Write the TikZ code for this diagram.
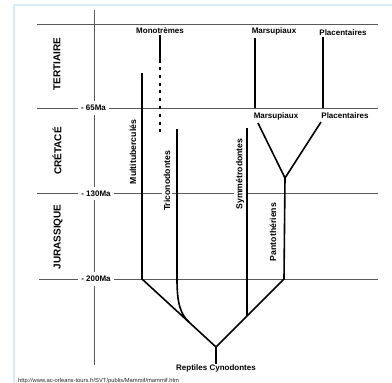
\documentclass[tikz,border=0pt]{standalone}
\usepackage{fontspec}
\setmainfont{Liberation Sans}
\begin{document}
\begin{tikzpicture}[x=1pt,y=-1pt,
  gridline/.style={draw=black!65, line width=0.7pt},
  branch/.style={draw=black, line width=1.6pt},
  lbl/.style={font=\bfseries\fontsize{8}{9}\selectfont, inner sep=1pt},
  vlbl/.style={font=\bfseries\fontsize{8.7}{10}\selectfont, inner sep=1.5pt, rotate=90, fill=white},
  period/.style={font=\bfseries\fontsize{10}{12}\selectfont, rotate=90, inner sep=1pt},
  malbl/.style={lbl, fill=white, inner xsep=3pt, inner ysep=4pt}]
\useasboundingbox (0,0) rectangle (392,383);
\fill[white] (0,0) rectangle (392,383);
\draw[draw={rgb,255:red,214;green,238;blue,244}, line width=1.5pt] (14,383) -- (14,5) -- (392,5);

% time grid
\coordinate (axT) at (94,10);
\coordinate (axB) at (94,365);
\coordinate (g0l) at (37,24);   \coordinate (g0r) at (378,24);
\coordinate (g1l) at (37,108);  \coordinate (g1r) at (378,108);
\coordinate (g2l) at (37,193.5);\coordinate (g2r) at (378,193.5);
\coordinate (g3l) at (39,279);  \coordinate (g3r) at (378,279);
\draw[gridline] (axT) -- (axB);
\draw[gridline] (g0l) -- (g0r);
\draw[gridline] (g1l) -- (g1r);
\draw[gridline] (g2l) -- (g2r);
\draw[gridline] (g3l) -- (g3r);
\node[malbl] (ma65) at (93.5,108) {- 65Ma};
\node[malbl] (ma130) at (96,193.5) {- 130Ma};
\node[malbl] (ma200) at (96,279) {- 200Ma};

% periods
\node[period] (tert) at (57,64) {TERTIAIRE};
\node[period] (cret) at (57,151) {CRÉTACÉ};
\node[period] (jura) at (58,237) {JURASSIQUE};

% rotated group labels
\node[vlbl] (multi) at (133,152) {Multituberculés};
\node[vlbl] (trico) at (167,181) {Triconodontes};
\node[vlbl] (symm) at (240,174) {Symmétrodontes};
\node[vlbl] (panto) at (273,232) {Pantothériens};

% horizontal labels
\node[lbl] (mono) at (160,31) {Monotrèmes};
\node[lbl] (marsT) at (274,31) {Marsupiaux};
\node[lbl] (placT) at (343,32.5) {Placentaires};
\node[lbl] (marsM) at (276,116) {Marsupiaux};
\node[lbl] (placM) at (345,116) {Placentaires};
\node[lbl, anchor=north] (cyno) at (216,364) {Reptiles Cynodontes};
\node[font=\fontsize{5.8}{6}\selectfont, text=black!85, inner sep=0pt, anchor=west] (url) at (18,381) {http://www.ac-orleans-tours.fr/SVT/publis/Mammif/mammif.htm};

% tree
\coordinate (root) at (216,347);
\coordinate (mb) at (142,279);  \coordinate (mt) at (142,73);
\coordinate (tb) at (177,279);  \coordinate (tt) at (177,129);
\coordinate (tj) at (189,322);
\coordinate (sj) at (247,316);  \coordinate (st) at (247,128);
\coordinate (pb) at (284,279);  \coordinate (fork) at (285,178);
\coordinate (ml) at (258,123);  \coordinate (pr) at (321,122);
\coordinate (mat) at (255,38);  \coordinate (mab) at (255,108);
\coordinate (plt) at (323,37);  \coordinate (plb) at (323,108);
\coordinate (mot) at (160,35);  \coordinate (mom) at (160,63);
\coordinate (mds) at (160,67);  \coordinate (mod) at (160,137);

\draw[branch] (mt) -- (mb) -- (root) -- (pb) -- (fork) -- (ml);
\draw[branch] (fork) -- (pr);
\draw[branch] (tt) -- (tb) .. controls (177,302) and (180,314) .. (tj);
\draw[branch] (st) -- (sj);
\draw[branch] (root) -- (cyno.north);
\draw[branch] (mat) -- (mab);
\draw[branch] (plt) -- (plb);
\draw[branch] (mot) -- (mom);
\draw[branch, dash pattern=on 3pt off 4.8pt] (mds) -- (mod);
\end{tikzpicture}
\end{document}
